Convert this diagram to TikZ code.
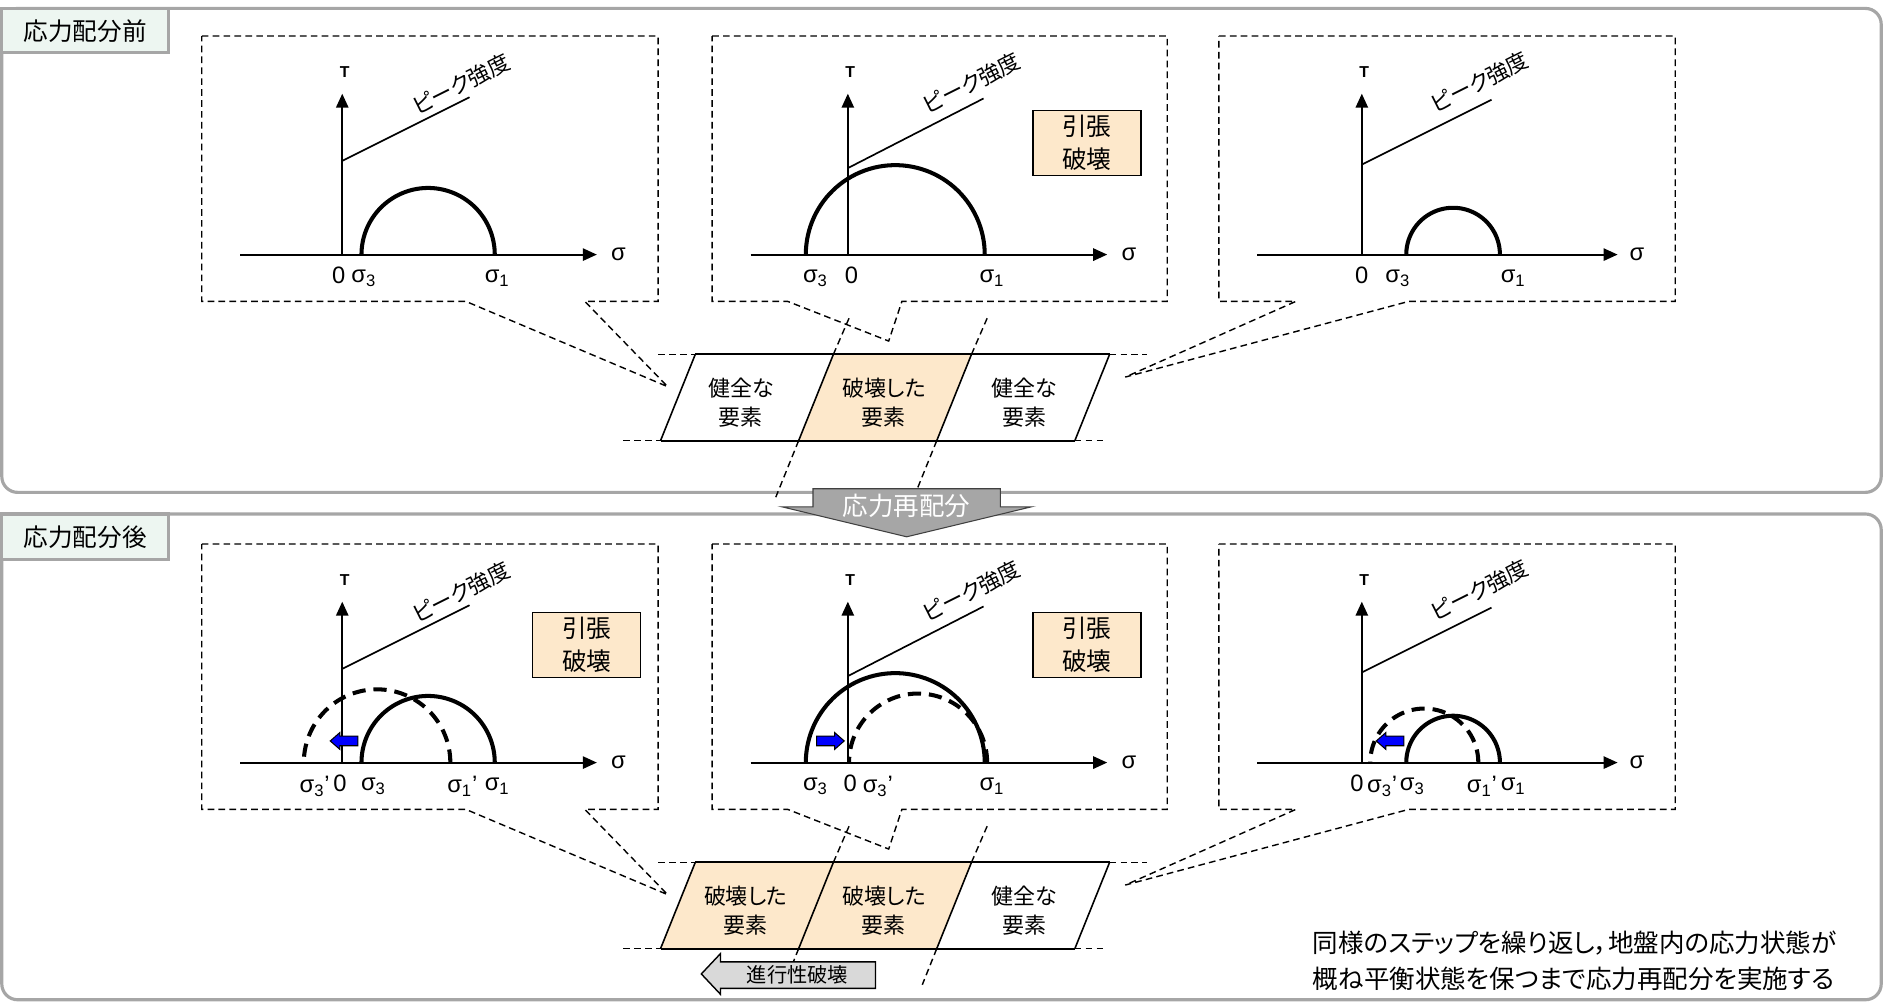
\documentclass[tikz,border=0pt]{standalone}
\usepackage{fontspec}
\setmainfont{Liberation Sans}
\newfontfamily\jp[RawFeature=+palt]{Noto Sans CJK JP}
\usetikzlibrary{arrows.meta}

\definecolor{framegray}{RGB}{166,166,166}
\definecolor{tagmint}{RGB}{237,246,241}
\definecolor{brokenfill}{RGB}{253,232,203}
\definecolor{progfill}{RGB}{217,217,217}

\tikzset{
  frame/.style={draw=framegray, line width=1.8pt, rounded corners=9pt},
  tagbox/.style={draw=framegray, fill=tagmint, line width=1.8pt},
  tagtext/.style={inner sep=0pt, font=\jp\fontsize{14}{16}\selectfont},
  zoombox/.style={line width=0.8pt, dash pattern=on 3.8pt off 2.4pt},
  guide/.style={line width=0.8pt, dash pattern=on 3.8pt off 2.4pt},
  axis/.style={line width=1.1pt, -{Triangle[length=8pt,width=7pt]}},
  peak/.style={line width=0.95pt},
  mohr/.style={line width=2.3pt},
  mohrnew/.style={line width=2.3pt, dash pattern=on 7.5pt off 4.5pt},
  elem/.style={line width=0.9pt},
  pushblue/.style={draw, line width=0.6pt, fill=blue},
  sig/.style={inner sep=0pt, font=\fontsize{13.5}{15}\selectfont},
  taulbl/.style={inner sep=0pt, font=\bfseries\fontsize{9}{10}\selectfont},
  peaktext/.style={inner sep=0pt, rotate=26.6, font=\jp\fontsize{12.5}{14}\selectfont},
  elemtext/.style={inner sep=0pt, align=center, font=\jp\fontsize{12.5}{16.4}\selectfont},
  tensionbox/.style={draw, line width=0.9pt, fill=brokenfill, align=center,
    minimum width=2.16cm, minimum height=1.3cm, inner sep=0pt,
    font=\jp\fontsize{14}{18.5}\selectfont}
}

\begin{document}
\begin{tikzpicture}[x=0.024cm, y=-0.024cm]
\useasboundingbox (0,0) rectangle (1568,834);

% ---- before redistribution ----
\draw[frame] (1.5,7) rectangle (1566.5,410);
\draw[tagbox] (1.5,7) rectangle (140,44);
\node[tagtext] (before) at (71,26) {応力配分前};

% callout boxes
\draw[zoombox] (168,30) -- (548,30) -- (548,251) -- (487,251) -- (556,322) -- (388,251) -- (168,251) -- cycle;
\draw[zoombox] (593,30) -- (972,30) -- (972,251) -- (751,251) -- (740,284) -- (656,251) -- (593,251) -- cycle;
\draw[zoombox] (1015,30) -- (1395,30) -- (1395,251) -- (1173,251) -- (937,314) -- (1079,251) -- (1015,251) -- cycle;

% left element
\draw[axis] (200,212) -- (497,212);
\draw[axis] (285,212) -- (285,78);
\node[taulbl] (tauA) at (287,60) {T};
\draw[peak] (285,134) -- (391,81);
\node[peaktext] (peakA) at (384,70) {ピーク強度};
\draw[mohr] plot[domain=0:180, samples=60] ({356.5+55.5*cos(\x)}, {212-55.5*sin(\x)});
\node[sig] (zeroA) at (282,229) {0};
\node[sig] (s3A) at (303,232) {σ\textsubscript{3}};
\node[sig] (s1A) at (414,232) {σ\textsubscript{1}};
\node[sig] (sigA) at (515,212) {σ};

% broken element
\draw[axis] (625,212) -- (922,212);
\draw[axis] (706,212) -- (706,78);
\node[taulbl] (tauB) at (708,60) {T};
\draw[peak] (706,140) -- (819,82);
\node[peaktext] (peakB) at (809,69) {ピーク強度};
\draw[mohr] plot[domain=0:180, samples=60] ({745.5+74.5*cos(\x)}, {212-74.5*sin(\x)});
\node[sig] (s3B) at (679,232) {σ\textsubscript{3}};
\node[sig] (zeroB) at (709,229) {0};
\node[sig] (s1B) at (826,232) {σ\textsubscript{1}};
\node[sig] (sigB) at (940,212) {σ};
\node[tensionbox] (tenB) at (905,119) {引張\\破壊};

% right element
\draw[axis] (1047,212) -- (1347,212);
\draw[axis] (1134,212) -- (1134,78);
\node[taulbl] (tauC) at (1136,60) {T};
\draw[peak] (1134,137) -- (1242,83);
\node[peaktext] (peakC) at (1232,68) {ピーク強度};
\draw[mohr] plot[domain=0:180, samples=60] ({1210+39*cos(\x)}, {212-39*sin(\x)});
\node[sig] (zeroC) at (1134,229) {0};
\node[sig] (s3C) at (1164,232) {σ\textsubscript{3}};
\node[sig] (s1C) at (1260,232) {σ\textsubscript{1}};
\node[sig] (sigC) at (1363,212) {σ};

% element strip
\fill[brokenfill] (694,295) -- (809,295) -- (780,367) -- (665,367) -- cycle;
\draw[elem] (579,295) -- (924,295);
\draw[elem] (550,367) -- (895,367);
\draw[elem] (579,295) -- (550,367);
\draw[elem] (694,295) -- (665,367);
\draw[elem] (809,295) -- (780,367);
\draw[elem] (924,295) -- (895,367);
\draw[guide] (548,295) -- (579,295);
\draw[guide] (924,295) -- (955,295);
\draw[guide] (519,367) -- (550,367);
\draw[guide] (895,367) -- (920,367);
\draw[guide] (707,265) -- (694,295);
\draw[guide] (822,265) -- (809,295);
\draw[guide] (665,367) -- (646,414);
\draw[guide] (780,367) -- (761,414);
\node[elemtext] (soundA) at (617,335) {健全な\\要素};
\node[elemtext] (brokenA) at (736,335) {破壊した\\要素};
\node[elemtext] (soundB) at (853,335) {健全な\\要素};

% ---- after redistribution ----
\draw[frame] (1.5,428) rectangle (1566.5,832.5);
\draw[tagbox] (1.5,428) rectangle (140,466);
\node[tagtext] (after) at (71,447) {応力配分後};

\begin{scope}[shift={(0,423)}]
\draw[zoombox] (168,30) -- (548,30) -- (548,251) -- (487,251) -- (556,322) -- (388,251) -- (168,251) -- cycle;
\draw[zoombox] (593,30) -- (972,30) -- (972,251) -- (751,251) -- (740,284) -- (656,251) -- (593,251) -- cycle;
\draw[zoombox] (1015,30) -- (1395,30) -- (1395,251) -- (1173,251) -- (937,314) -- (1079,251) -- (1015,251) -- cycle;

% left element, now failed
\draw[axis] (200,212) -- (497,212);
\draw[axis] (285,212) -- (285,78);
\node[taulbl] (tauD) at (287,60) {T};
\draw[peak] (285,134) -- (391,81);
\node[peaktext] (peakD) at (384,70) {ピーク強度};
\draw[mohr] plot[domain=0:180, samples=60] ({356.5+55.5*cos(\x)}, {212-55.5*sin(\x)});
\draw[mohrnew] plot[domain=0:180, samples=60] ({314+61*cos(\x)}, {212-61*sin(\x)});
\draw[pushblue] (275,194) -- ++(8,-7) -- ++(0,3) -- ++(15,0) -- ++(0,8) -- ++(-15,0) -- ++(0,3) -- cycle;
\node[sig] (s3nD) at (262,232) {σ\textsubscript{3}’};
\node[sig] (zeroD) at (283,229) {0};
\node[sig] (s3D) at (311,232) {σ\textsubscript{3}};
\node[sig] (s1nD) at (385,232) {σ\textsubscript{1}’};
\node[sig] (s1D) at (414,232) {σ\textsubscript{1}};
\node[sig] (sigD) at (515,212) {σ};
\node[tensionbox] (tenD) at (488.5,114) {引張\\破壊};

% middle element
\draw[axis] (625,212) -- (922,212);
\draw[axis] (706,212) -- (706,78);
\node[taulbl] (tauE) at (708,60) {T};
\draw[peak] (706,140) -- (819,82);
\node[peaktext] (peakE) at (809,69) {ピーク強度};
\draw[mohr] plot[domain=0:180, samples=60] ({745.5+74.5*cos(\x)}, {212-74.5*sin(\x)});
\draw[mohrnew] plot[domain=0:180, samples=60] ({764.5+57.5*cos(\x)}, {212-57.5*sin(\x)});
\draw[pushblue] (703,194) -- ++(-8,-7) -- ++(0,3) -- ++(-15,0) -- ++(0,8) -- ++(15,0) -- ++(0,3) -- cycle;
\node[sig] (s3E) at (679,232) {σ\textsubscript{3}};
\node[sig] (zeroE) at (708,229) {0};
\node[sig] (s3nE) at (731,232) {σ\textsubscript{3}’};
\node[sig] (s1E) at (826,232) {σ\textsubscript{1}};
\node[sig] (sigE) at (940,212) {σ};
\node[tensionbox] (tenE) at (905,114) {引張\\破壊};

% right element
\draw[axis] (1047,212) -- (1347,212);
\draw[axis] (1134,212) -- (1134,78);
\node[taulbl] (tauF) at (1136,60) {T};
\draw[peak] (1134,137) -- (1242,83);
\node[peaktext] (peakF) at (1232,68) {ピーク強度};
\draw[mohr] plot[domain=0:180, samples=60] ({1210+39*cos(\x)}, {212-39*sin(\x)});
\draw[mohrnew] plot[domain=0:180, samples=60] ({1186+45*cos(\x)}, {212-45*sin(\x)});
\draw[pushblue] (1146,194) -- ++(8,-7) -- ++(0,3) -- ++(15,0) -- ++(0,8) -- ++(-15,0) -- ++(0,3) -- cycle;
\node[sig] (zeroF) at (1130,229) {0};
\node[sig] (s3nF) at (1151,232) {σ\textsubscript{3}’};
\node[sig] (s3F) at (1176,232) {σ\textsubscript{3}};
\node[sig] (s1nF) at (1234,232) {σ\textsubscript{1}’};
\node[sig] (s1F) at (1260,232) {σ\textsubscript{1}};
\node[sig] (sigF) at (1363,212) {σ};

% element strip
\fill[brokenfill] (579,295) -- (809,295) -- (780,367) -- (550,367) -- cycle;
\draw[elem] (579,295) -- (924,295);
\draw[elem] (550,367) -- (895,367);
\draw[elem] (579,295) -- (550,367);
\draw[elem] (694,295) -- (665,367);
\draw[elem] (809,295) -- (780,367);
\draw[elem] (924,295) -- (895,367);
\draw[guide] (548,295) -- (579,295);
\draw[guide] (924,295) -- (955,295);
\draw[guide] (519,367) -- (550,367);
\draw[guide] (895,367) -- (920,367);
\draw[guide] (707,265) -- (694,295);
\draw[guide] (822,265) -- (809,295);
\draw[guide] (665,367) -- (653,397);
\draw[guide] (780,367) -- (768,397);
\node[elemtext] (brokenB) at (621,335) {破壊した\\要素};
\node[elemtext] (brokenC) at (736,335) {破壊した\\要素};
\node[elemtext] (soundC) at (853,335) {健全な\\要素};
\end{scope}

% progressive failure arrow
\draw[line width=0.8pt, fill=progfill] (584,811) -- (600,794) -- (600,801) -- (729,801) -- (729,823) -- (600,823) -- (600,828) -- cycle;
\node[inner sep=0pt, font=\jp\fontsize{11.5}{13}\selectfont] (progress) at (664,812) {進行性破壊};

% redistribution arrow
\draw[line width=0.6pt, draw=black!75, fill=framegray] (677,407) -- (833,407) -- (833,422) -- (859,422) -- (755,447) -- (651,422) -- (677,422) -- cycle;
\node[inner sep=0pt, text=white, font=\jp\fontsize{14.5}{16}\selectfont] (redist) at (755,421) {応力再配分};

% note
\node[anchor=west, inner sep=0pt, align=left, font=\jp\fontsize{14.5}{20}\selectfont] (note) at (1093,800) {同様のステップを繰り返し，地盤内の応力状態が\\概ね平衡状態を保つまで応力再配分を実施する};

\end{tikzpicture}
\end{document}
